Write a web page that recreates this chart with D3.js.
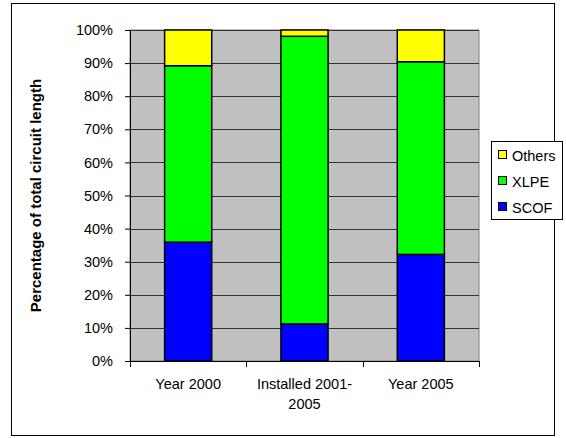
<!DOCTYPE html>
<html>
<head>
<meta charset="utf-8">
<script src="https://cdn.jsdelivr.net/npm/d3@7"></script>
<style>
  html, body { margin: 0; padding: 0; background: #fff; }
  svg { display: block; font-family: "Liberation Sans", Arial, sans-serif; }
</style>
</head>
<body>
<svg id="chart" width="566" height="438"></svg>
<script>
// Cable types by share of total circuit length
const categories = [["Year 2000"], ["Installed 2001-", "2005"], ["Year 2005"]];
const seriesNames = ["SCOF", "XLPE", "Others"];
const scof   = [35.9, 11.2, 32.2];
const xlpe   = [53.3, 86.9, 58.2];
const others = [10.8, 1.9, 9.6];
const yTicks = [0, 10, 20, 30, 40, 50, 60, 70, 80, 90, 100];
const colors = { SCOF: "#0000ff", XLPE: "#00ff00", Others: "#ffff00" };

const fontSize = 14.5;
const svg = d3.select("#chart");

// outer frame
svg.append("rect")
  .attr("x", 11.5).attr("y", 3.5).attr("width", 543).attr("height", 432)
  .attr("fill", "#fff").attr("stroke", "#000").attr("stroke-width", 1);

const plot = { left: 130, top: 30, right: 479, bottom: 361 };

const x = d3.scaleBand()
  .domain(d3.range(categories.length))
  .range([plot.left, plot.right])
  .paddingInner(0.595).paddingOuter(0.2975);
const y = d3.scaleLinear().domain([0, 100]).range([plot.bottom, plot.top]);

// plot area background
svg.append("rect")
  .attr("x", plot.left).attr("y", plot.top)
  .attr("width", plot.right - plot.left).attr("height", plot.bottom - plot.top)
  .attr("fill", "#c0c0c0").attr("stroke", "#808080").attr("stroke-width", 1);

// horizontal gridlines
svg.append("g").selectAll("line")
  .data(yTicks.filter(t => t > 0))
  .join("line")
  .attr("x1", plot.left).attr("x2", plot.right)
  .attr("y1", d => Math.round(y(d)) + 0.5).attr("y2", d => Math.round(y(d)) + 0.5)
  .attr("stroke", "#333").attr("stroke-width", 1);

// stacked bars
const rows = categories.map((c, i) => ({ i, SCOF: scof[i], XLPE: xlpe[i], Others: others[i] }));
const stack = d3.stack().keys(seriesNames)(rows);
svg.append("g").selectAll("g")
  .data(stack)
  .join("g")
  .attr("fill", d => colors[d.key])
  .selectAll("rect")
  .data(d => d)
  .join("rect")
  .attr("x", d => x(d.data.i))
  .attr("width", x.bandwidth())
  .attr("y", d => y(d[1]))
  .attr("height", d => y(d[0]) - y(d[1]))
  .attr("stroke", "#000").attr("stroke-width", 1.5);

// y axis
const yAxis = d3.axisLeft(y).tickValues(yTicks).tickFormat(d => d + "%")
  .tickSize(5).tickSizeOuter(0).tickPadding(12);
const gy = svg.append("g").attr("transform", `translate(${plot.left},0)`).call(yAxis);
gy.select(".domain").attr("stroke", "#000");
gy.selectAll(".tick line").attr("stroke", "#000");
gy.selectAll(".tick text").attr("font-size", fontSize).attr("fill", "#000")
  .attr("font-family", "Liberation Sans, Arial, sans-serif");

// x axis: line and boundary ticks
const xAxisG = svg.append("g");
xAxisG.append("line")
  .attr("x1", plot.left).attr("x2", plot.right)
  .attr("y1", plot.bottom + 0.5).attr("y2", plot.bottom + 0.5)
  .attr("stroke", "#000");
const boundaries = d3.range(categories.length + 1).map(k => plot.left + k * (plot.right - plot.left) / categories.length);
xAxisG.selectAll("line.b")
  .data(boundaries)
  .join("line").attr("class", "b")
  .attr("x1", d => Math.round(d) + 0.5).attr("x2", d => Math.round(d) + 0.5)
  .attr("y1", plot.bottom).attr("y2", plot.bottom + 6)
  .attr("stroke", "#000");

// category labels
const labels = svg.append("g").attr("font-size", fontSize).attr("text-anchor", "middle").attr("fill", "#000");
categories.forEach((lines, i) => {
  const cx = x(i) + x.bandwidth() / 2;
  const t = labels.append("text").attr("x", cx).attr("y", 389);
  lines.forEach((ln, k) => {
    t.append("tspan").attr("x", cx).attr("dy", k === 0 ? 0 : 20).text(ln);
  });
});

// y axis title
svg.append("text")
  .attr("transform", `translate(41,${(plot.top + plot.bottom) / 2}) rotate(-90)`)
  .attr("text-anchor", "middle")
  .attr("font-size", 15).attr("font-weight", "bold")
  .text("Percentage of total circuit length");

// legend
const legend = svg.append("g");
legend.append("rect")
  .attr("x", 491.5).attr("y", 141.5).attr("width", 71).attr("height", 78)
  .attr("fill", "#fff").attr("stroke", "#000");
const legendItems = ["Others", "XLPE", "SCOF"];
legendItems.forEach((name, k) => {
  const cy = 155 + k * 26;
  legend.append("rect")
    .attr("x", 498.5).attr("y", cy - 4.5).attr("width", 8).attr("height", 8)
    .attr("fill", colors[name]).attr("stroke", "#000");
  legend.append("text")
    .attr("x", 512).attr("y", cy + 5.5)
    .attr("font-size", fontSize).text(name);
});
</script>
</body>
</html>
